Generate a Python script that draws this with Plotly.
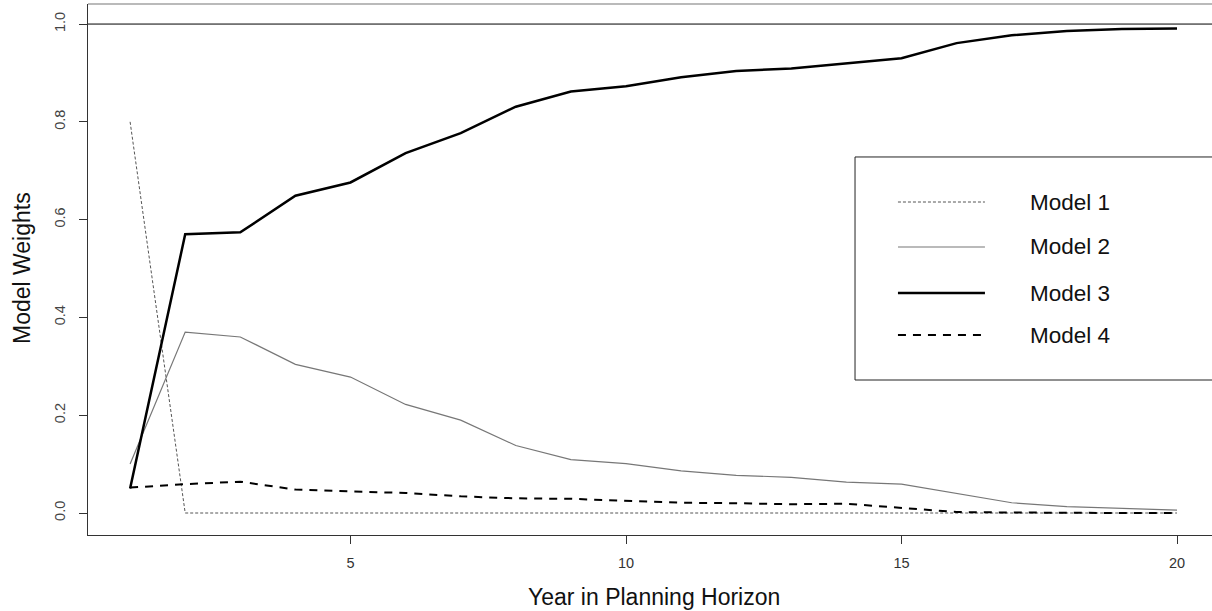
import plotly.graph_objects as go

years = list(range(1, 21))
model1 = [0.80] + [0.0] * 19
model2 = [0.10, 0.37, 0.36, 0.304, 0.278, 0.222, 0.190, 0.138, 0.109, 0.101,
          0.086, 0.077, 0.073, 0.063, 0.059, 0.040, 0.021, 0.013, 0.010, 0.006]
model3 = [0.05, 0.570, 0.574, 0.649, 0.676, 0.736, 0.777, 0.831, 0.862, 0.873,
          0.891, 0.904, 0.909, 0.919, 0.930, 0.961, 0.977, 0.986, 0.990, 0.991]
model4 = [0.052, 0.059, 0.064, 0.048, 0.044, 0.041, 0.034, 0.030, 0.029, 0.025,
          0.021, 0.020, 0.018, 0.019, 0.011, 0.002, 0.001, 0.0, 0.0, 0.0]
names = ["Model 1", "Model 2", "Model 3", "Model 4"]
x_ticks = [5, 10, 15, 20]
y_ticks = [0.0, 0.2, 0.4, 0.6, 0.8, 1.0]
y_ticktext = ["0.0", "0.2", "0.4", "0.6", "0.8", "1.0"]

FONT = "Liberation Sans, Arial, sans-serif"
styles = [
    dict(color="#555555", width=1, dash="3px,2px"),
    dict(color="#777777", width=1.2, dash="solid"),
    dict(color="#000000", width=2.5, dash="solid"),
    dict(color="#000000", width=2, dash="8px,7px"),
]
series = [model1, model2, model3, model4]

fig = go.Figure()
for name, ys, st in zip(names, series, styles):
    fig.add_trace(go.Scatter(x=years, y=ys, mode="lines", name=name,
                             line=st, showlegend=False))

# Reference line at 1.0
fig.add_shape(type="line", xref="paper", x0=0, x1=1, yref="y", y0=1, y1=1,
              line=dict(color="black", width=1))
# Top border of box
fig.add_shape(type="line", xref="paper", x0=0, x1=1.02, yref="paper", y0=1, y1=1,
              line=dict(color="#777777", width=1.2))

# Manual legend
fig.add_shape(type="rect", xref="paper", yref="paper", x0=0.6824, x1=1.03,
              y0=0.2919, y1=0.7119, line=dict(color="#222222", width=1),
              fillcolor="white", layer="above")
rows = [0.6271, 0.5424, 0.4557, 0.3766]
for name, st, ry in zip(names, styles, rows):
    fig.add_shape(type="line", xref="paper", yref="paper", x0=0.7206, x1=0.798,
                  y0=ry, y1=ry, line=st, layer="above")
    fig.add_annotation(x=0.8363, y=ry, xref="paper", yref="paper", text=name,
                       showarrow=False, xanchor="left", yanchor="middle",
                       font=dict(family=FONT, size=22.5, color="#111111"))

# Axis titles
fig.add_annotation(x=0.5036, y=(535 - 597) / 531, xref="paper", yref="paper",
                   text="Year in Planning Horizon", showarrow=False,
                   xanchor="center", yanchor="middle",
                   font=dict(family=FONT, size=23, color="#111111"))
fig.add_annotation(x=(22 - 88) / 1124, y=(535 - 268) / 531, xref="paper", yref="paper",
                   text="Model Weights", textangle=-90, showarrow=False,
                   xanchor="center", yanchor="middle",
                   font=dict(family=FONT, size=23, color="#111111"))

fig.update_layout(
    width=1212, height=611,
    margin=dict(l=88, r=0, t=4, b=76, autoexpand=False),
    paper_bgcolor="white", plot_bgcolor="white",
    font=dict(family=FONT, color="#333333"),
    xaxis=dict(range=[0.236, 20.635], tickvals=x_ticks, showgrid=False, zeroline=False,
               showline=True, linecolor="#333333", linewidth=1.2, ticks="outside",
               ticklen=8, tickcolor="#333333", tickfont=dict(size=14.5, color="#333333"),
               ticklabelstandoff=6, automargin=False),
    yaxis=dict(range=[-0.045, 1.041], tickvals=y_ticks, ticktext=y_ticktext,
               tickangle=-90, showgrid=False, zeroline=False,
               showline=True, linecolor="#333333", linewidth=1.2, ticks="outside",
               ticklen=8, tickcolor="#333333", tickfont=dict(size=14.5, color="#444444"),
               ticklabelstandoff=8, automargin=False),
)

fig.write_html("out.html", config={"displayModeBar": False},
               post_script="document.body.style.margin='0';document.body.style.overflow='hidden';")
